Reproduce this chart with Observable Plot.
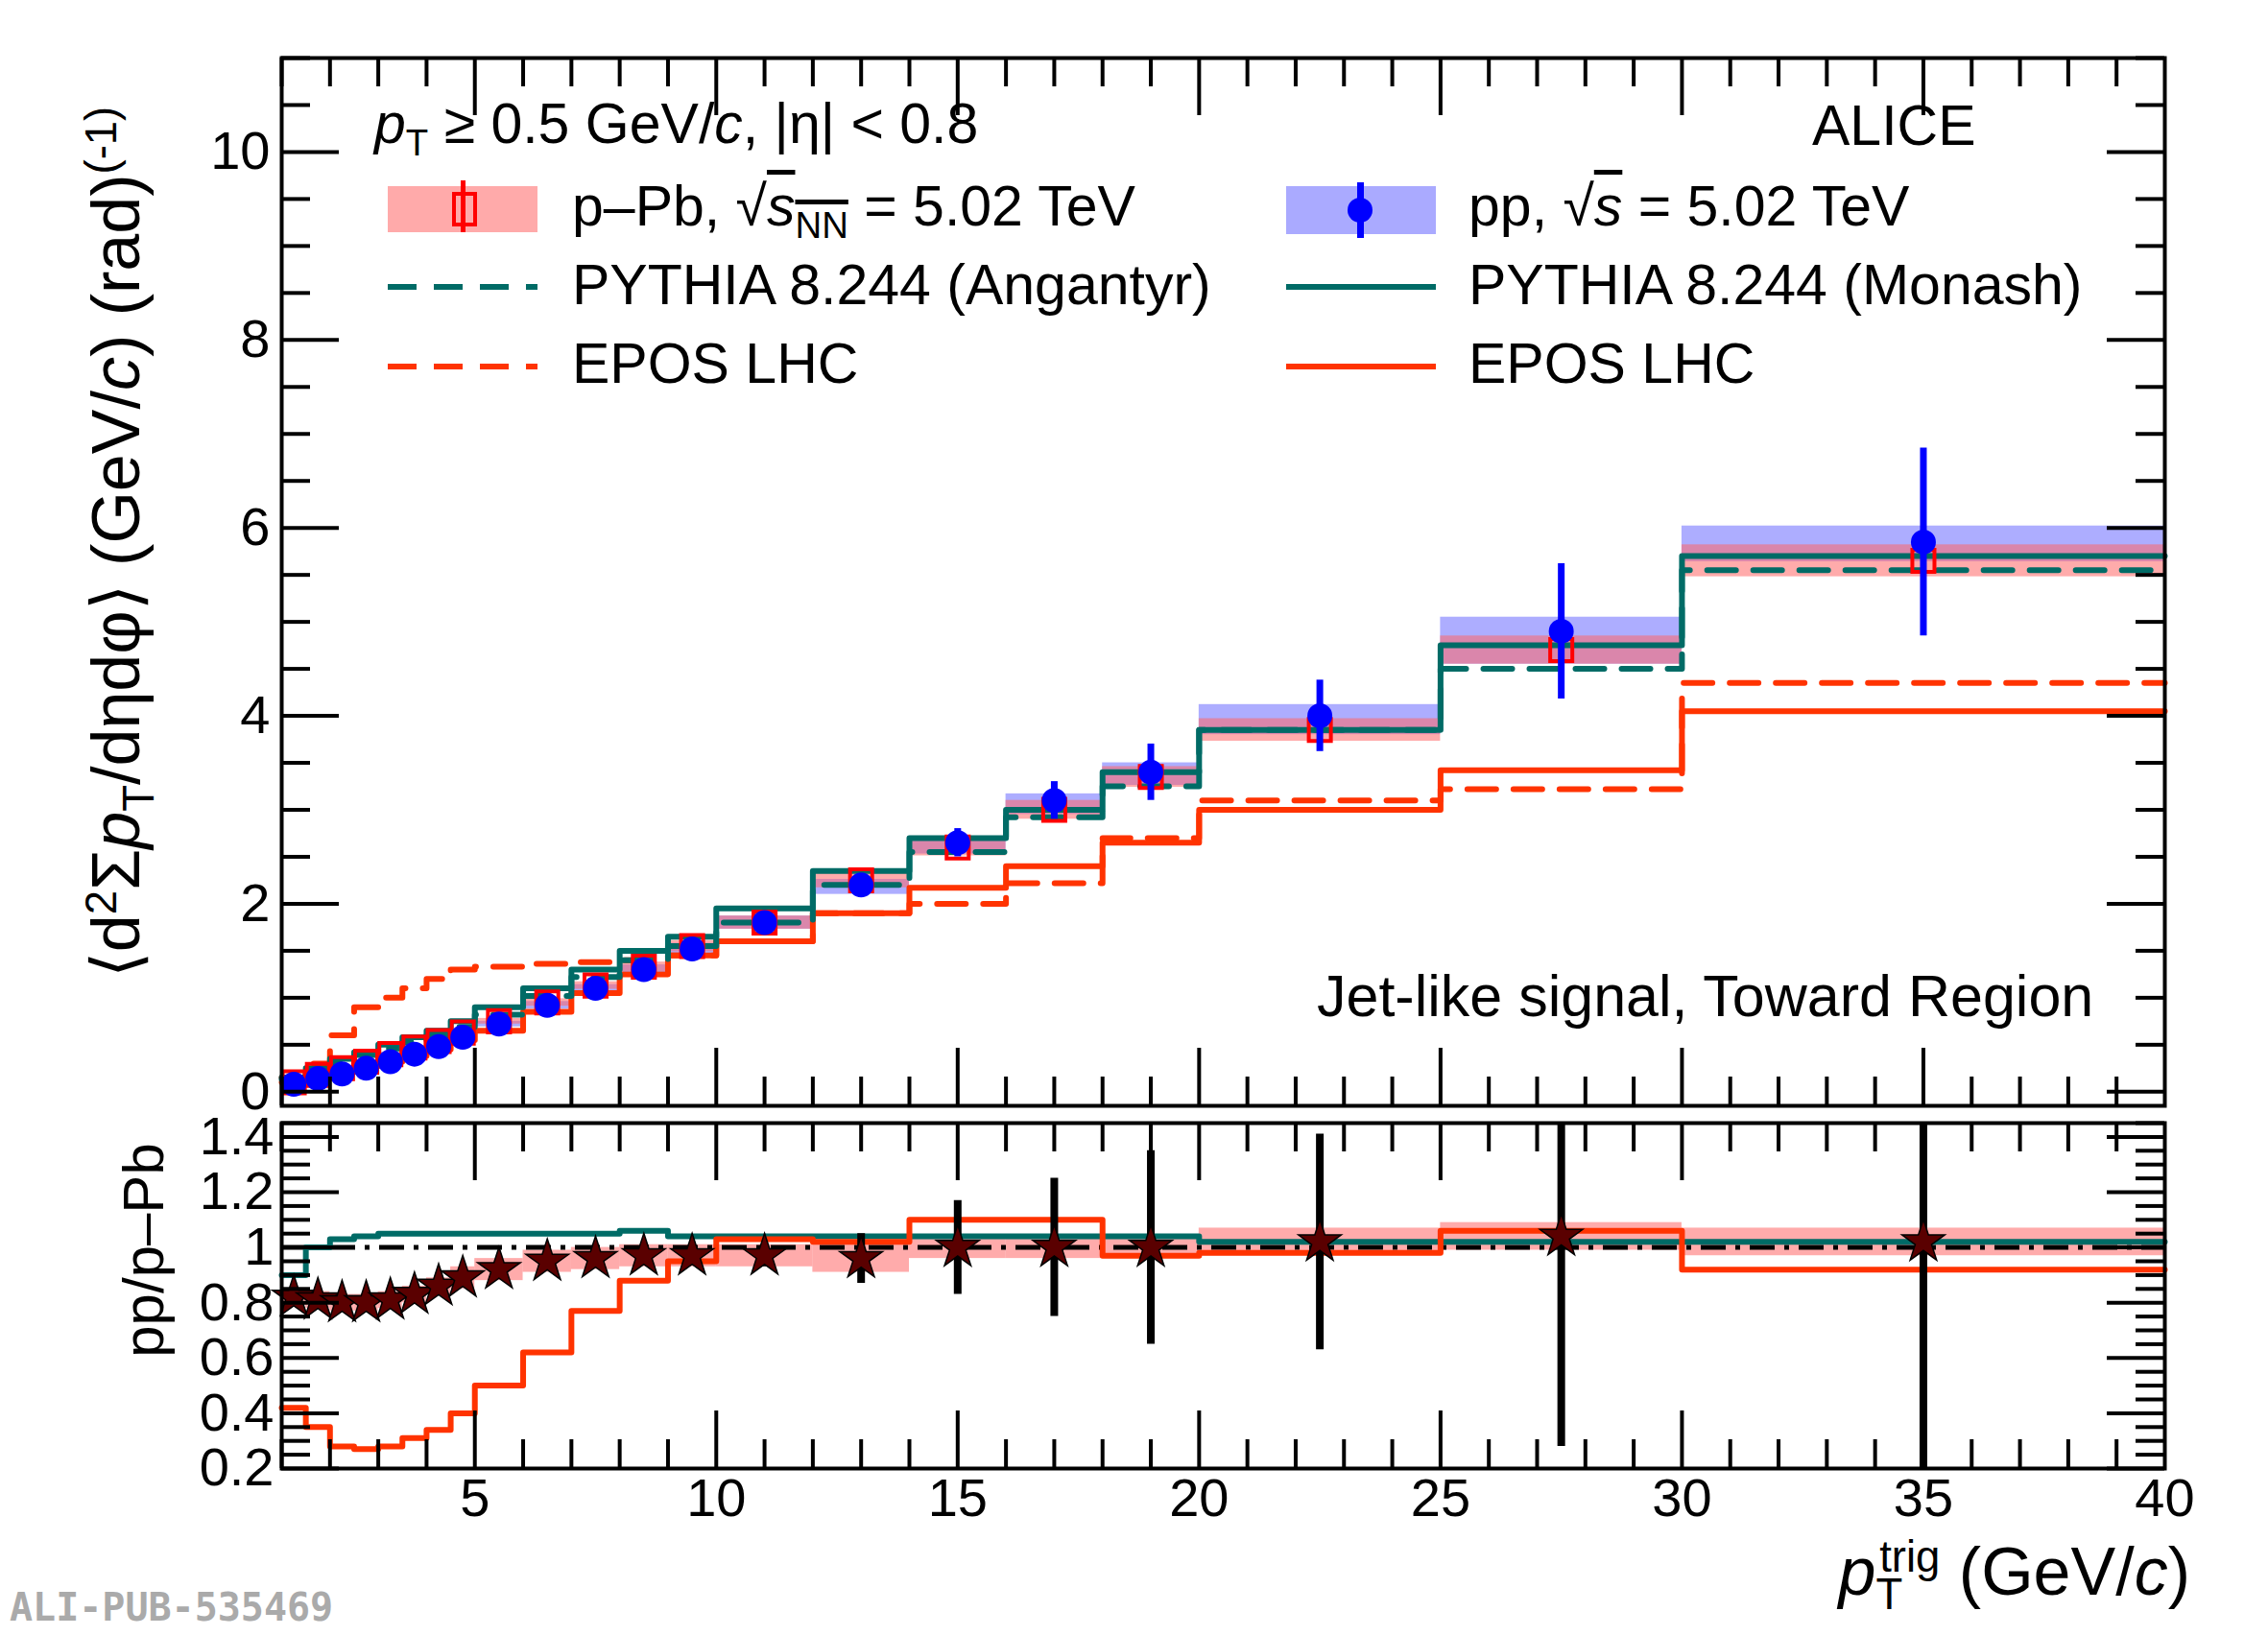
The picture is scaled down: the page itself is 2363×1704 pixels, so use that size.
<!DOCTYPE html>
<html><head><meta charset="utf-8">
<script src="https://cdn.jsdelivr.net/npm/d3@7"></script>
<script src="https://cdn.jsdelivr.net/npm/@observablehq/plot@0.6"></script>
<style>
body{margin:0;background:#fff;font-family:"Liberation Sans",Arial,sans-serif;}
#wrap{position:relative;width:2363px;height:1704px;overflow:hidden;}
.t{position:absolute;white-space:nowrap;font-size:59px;color:#000;line-height:1;}
.sw{position:absolute;}
sub,sup{font-size:0.65em;}
</style></head><body><div id="wrap"></div>
<script>
// bin edges (GeV/c)
const edges = [1,1.5,2,2.5,3,3.5,4,4.5,5,6,7,8,9,10,12,14,16,18,20,25,30,40];
const centers = [1.25,1.75,2.25,2.75,3.25,3.75,4.25,4.75,5.5,6.5,7.5,8.5,9.5,11,13,15,17,19,22.5,27.5,35];
// pp data
const ppVal  = [0.08,0.14,0.19,0.25,0.32,0.40,0.48,0.58,0.72,0.92,1.10,1.30,1.52,1.80,2.20,2.65,3.10,3.40,4.00,4.90,5.85];
const ppStat = [0.02,0.02,0.02,0.02,0.02,0.02,0.02,0.03,0.03,0.03,0.04,0.05,0.06,0.08,0.10,0.15,0.20,0.30,0.38,0.72,1.00];
const ppSys  = [0.01,0.01,0.01,0.02,0.02,0.02,0.02,0.03,0.03,0.04,0.04,0.05,0.06,0.07,0.08,0.09,0.11,0.12,0.16,0.25,0.19];
const ppSysC = [0.08,0.14,0.19,0.25,0.32,0.40,0.48,0.58,0.72,0.92,1.10,1.30,1.52,1.80,2.18,2.62,3.06,3.38,3.96,4.80,5.83];
// p-Pb data
const pPbVal = [0.10,0.18,0.25,0.32,0.40,0.47,0.54,0.63,0.75,0.95,1.13,1.33,1.55,1.80,2.25,2.60,3.00,3.35,3.85,4.70,5.65];
const pPbSys = [0.01,0.01,0.01,0.02,0.02,0.02,0.02,0.03,0.03,0.04,0.04,0.05,0.06,0.07,0.08,0.09,0.10,0.11,0.12,0.15,0.17];
// models
const monash   = [0.15,0.25,0.35,0.42,0.50,0.58,0.65,0.75,0.90,1.10,1.30,1.50,1.65,1.95,2.35,2.70,3.00,3.40,3.85,4.75,5.70];
const angantyr = [0.13,0.22,0.31,0.39,0.46,0.53,0.60,0.69,0.82,1.02,1.22,1.40,1.55,1.80,2.20,2.55,2.92,3.25,3.85,4.50,5.55];
const eposPPb  = [0.15,0.30,0.60,0.90,1.00,1.10,1.20,1.30,1.33,1.36,1.38,1.40,1.45,1.60,1.90,2.00,2.22,2.70,3.10,3.22,4.35];
const eposPP   = [0.10,0.16,0.22,0.27,0.32,0.38,0.45,0.55,0.65,0.85,1.05,1.25,1.45,1.60,1.90,2.17,2.40,2.65,3.00,3.42,4.05];
// ratio pp/p-Pb
const ratio     = [0.82,0.81,0.80,0.80,0.81,0.83,0.86,0.89,0.92,0.95,0.96,0.97,0.97,0.97,0.96,1.00,1.00,1.00,1.02,1.04,1.02];
const ratioStat = [0.02,0.02,0.02,0.02,0.02,0.02,0.02,0.02,0.02,0.02,0.03,0.03,0.03,0.04,0.09,0.17,0.25,0.35,0.39,0.76,0.85];
const ratioSys  = [0.03,0.03,0.03,0.03,0.03,0.03,0.03,0.04,0.04,0.04,0.04,0.04,0.04,0.04,0.05,0.04,0.04,0.04,0.05,0.05,0.05];
const ratioPythia = [0.90,1.00,1.03,1.04,1.05,1.05,1.05,1.05,1.05,1.05,1.05,1.06,1.04,1.04,1.04,1.04,1.04,1.04,1.02,1.02,1.02];
const ratioEpos   = [0.42,0.35,0.28,0.27,0.28,0.31,0.34,0.40,0.50,0.62,0.77,0.88,0.95,1.03,1.02,1.10,1.10,0.97,0.98,1.06,0.92];

const bins = centers.map((c,i)=>({c, lo:edges[i], hi:edges[i+1], pp:ppVal[i], ppStat:ppStat[i], ppSys:ppSys[i], ppSysC:ppSysC[i],
  pPb:pPbVal[i], pPbSys:pPbSys[i], r:ratio[i], rStat:ratioStat[i], rSys:ratioSys[i]}));
const steps = vals => edges.map((e,i)=>({x:e, y:vals[Math.min(i, vals.length-1)]}));

const TEAL="#006b66", EPOS="#ff3300", W=2363, ML=293, MR=108;
const xDom=[1,40];
function ticksMarks(xDomain, yDomain, yMajor, yMinor, xMaj, xMin, pxW, pxH){
  const xu=(xDomain[1]-xDomain[0])/pxW, yu=(yDomain[1]-yDomain[0])/pxH;
  const yt=(arr,len)=>[
    Plot.ruleY(arr,{x1:xDomain[0],x2:xDomain[0]+len*xu,stroke:"#000",strokeWidth:4}),
    Plot.ruleY(arr,{x1:xDomain[1],x2:xDomain[1]-len*xu,stroke:"#000",strokeWidth:4})];
  const xt=(arr,len)=>[
    Plot.ruleX(arr,{y1:yDomain[0],y2:yDomain[0]+len*yu,stroke:"#000",strokeWidth:4}),
    Plot.ruleX(arr,{y1:yDomain[1],y2:yDomain[1]-len*yu,stroke:"#000",strokeWidth:4})];
  return [...yt(yMajor,60),...yt(yMinor,30),...xt(xMaj,60),...xt(xMin,30)];
}
const rng=(a,b,s)=>d3.range(Math.round(a/s),Math.round(b/s)+1).map(k=>+(k*s).toFixed(4));
const xMaj=[5,10,15,20,25,30,35], xMin=rng(1,40,1).filter(v=>v%5);

// main panel
const mainH=1160, mT=60, mB=8;
const yDom=[-0.15,11];
const main = Plot.plot({
  width:W, height:mainH, marginLeft:ML, marginRight:MR, marginTop:mT, marginBottom:mB,
  x:{domain:xDom}, y:{domain:yDom},
  style:{fontFamily:"Liberation Sans, Arial, sans-serif", fontSize:"56px", overflow:"visible"},
  marks:[
    Plot.rect(bins,{x1:"lo",x2:"hi",y1:d=>d.ppSysC-d.ppSys,y2:d=>d.ppSysC+d.ppSys,fill:"#7777ff",fillOpacity:0.6}),
    Plot.rect(bins,{x1:"lo",x2:"hi",y1:d=>d.pPb-d.pPbSys,y2:d=>d.pPb+d.pPbSys,fill:"#ff6666",fillOpacity:0.55}),
    Plot.line(steps(eposPPb),{x:"x",y:"y",curve:"step-after",stroke:EPOS,strokeWidth:6,strokeDasharray:"30,18"}),
    Plot.line(steps(eposPP),{x:"x",y:"y",curve:"step-after",stroke:EPOS,strokeWidth:6}),
    Plot.line(steps(angantyr),{x:"x",y:"y",curve:"step-after",stroke:TEAL,strokeWidth:6,strokeDasharray:"30,18"}),
    Plot.line(steps(monash),{x:"x",y:"y",curve:"step-after",stroke:TEAL,strokeWidth:6}),
    Plot.ruleX(bins,{x:"c",y1:d=>d.pPb-d.pPbSys*0.8,y2:d=>d.pPb+d.pPbSys*0.8,stroke:"red",strokeWidth:5}),
    Plot.dot(bins,{x:"c",y:"pPb",symbol:"square",r:13,stroke:"red",strokeWidth:4,fill:"none"}),
    Plot.ruleX(bins,{x:"c",y1:d=>d.pp-d.ppStat,y2:d=>d.pp+d.ppStat,stroke:"blue",strokeWidth:7}),
    Plot.dot(bins,{x:"c",y:"pp",r:13,fill:"blue"}),
    Plot.axisY({ticks:[0,2,4,6,8,10],tickSize:0,tickPadding:12,label:null,fontSize:56}),
    Plot.axisX({ticks:[],label:null,tickSize:0}),
    ...ticksMarks(xDom,yDom,[0,2,4,6,8,10],rng(0,11,0.5).filter(v=>v%2),xMaj,xMin,W-ML-MR,mainH-mT-mB),
    Plot.frame({stroke:"#000",strokeWidth:4})
  ]
});
// ratio panel
const rH=530, rT=10, rB=160;
const rDom=[0.2,1.45];
const rp = Plot.plot({
  width:W, height:rH, marginLeft:ML, marginRight:MR, marginTop:rT, marginBottom:rB,
  x:{domain:xDom}, y:{domain:rDom},
  style:{fontFamily:"Liberation Sans, Arial, sans-serif", fontSize:"56px", overflow:"visible"},
  marks:[
    Plot.rect(bins,{x1:"lo",x2:"hi",y1:d=>d.r-d.rSys,y2:d=>d.r+d.rSys,fill:"#ff6666",fillOpacity:0.55}),
    Plot.ruleY([1],{stroke:"#000",strokeWidth:5,strokeDasharray:"26,10,5,10"}),
    Plot.line(steps(ratioPythia),{x:"x",y:"y",curve:"step-after",stroke:TEAL,strokeWidth:6}),
    Plot.line(steps(ratioEpos),{x:"x",y:"y",curve:"step-after",stroke:EPOS,strokeWidth:6}),
    Plot.ruleX(bins,{x:"c",y1:d=>Math.max(0.2,d.r-d.rStat),y2:d=>Math.min(1.45,d.r+d.rStat),stroke:"#000",strokeWidth:8}),
    Plot.dot(bins,{x:"c",y:"r",symbol:"star",r:14,fill:"#5a0000",stroke:"#000",strokeWidth:1.5}),
    Plot.axisY({ticks:[0.2,0.4,0.6,0.8,1,1.2,1.4],tickFormat:d=>d===1?"1":d3.format(".1f")(d),tickSize:0,tickPadding:8,label:null,fontSize:56}),
    Plot.axisX({ticks:[5,10,15,20,25,30,35,40],tickSize:0,tickPadding:10,label:null,fontSize:56}),
    ...ticksMarks(xDom,rDom,[0.2,0.4,0.6,0.8,1,1.2,1.4],rng(0.2,1.45,0.05).filter(v=>Math.abs(v*5-Math.round(v*5))>1e-6),xMaj,xMin,W-ML-MR,rH-rT-rB),
    Plot.frame({stroke:"#000",strokeWidth:4})
  ]
});
const wrap=document.getElementById("wrap");
main.style.position="absolute"; main.style.left="0"; main.style.top="0";
rp.style.position="absolute"; rp.style.left="0"; rp.style.top=mainH+"px";
wrap.appendChild(main); wrap.appendChild(rp);

function add(html,css){const d=document.createElement("div");d.className="t";d.innerHTML=html;Object.assign(d.style,css);wrap.appendChild(d);return d;}
function sw(css){const d=document.createElement("div");d.className="sw";Object.assign(d.style,css);wrap.appendChild(d);return d;}
const dash=c=>`repeating-linear-gradient(90deg, ${c} 0 30px, transparent 30px 48px)`;
add("<i>p</i><sub>T</sub> ≥ 0.5 GeV/<i>c</i>, |η| &lt; 0.8",{left:"390px",top:"100px"});
add("ALICE",{left:"1888px",top:"102px"});
add("Jet-like signal, Toward Region",{left:"1372px",top:"1008px",fontSize:"61px"});
// legend col 1
sw({left:"404px",top:"194px",width:"156px",height:"48px",background:"#ffaaaa"});
sw({left:"471px",top:"200px",width:"18px",height:"28px",border:"4px solid red"});
sw({left:"480px",top:"188px",width:"5px",height:"54px",background:"red"});
add("p–Pb, √<span style='text-decoration:overline'><i>s</i><sub>NN</sub></span> = 5.02 TeV",{left:"596px",top:"186px"});
sw({left:"404px",top:"296px",width:"156px",height:"6px",background:dash(TEAL)});
add("PYTHIA 8.244 (Angantyr)",{left:"596px",top:"268px"});
sw({left:"404px",top:"379px",width:"156px",height:"6px",background:dash(EPOS)});
add("EPOS LHC",{left:"596px",top:"350px"});
// legend col 2
sw({left:"1340px",top:"194px",width:"156px",height:"50px",background:"#aaaaff"});
sw({left:"1404px",top:"206px",width:"26px",height:"26px",borderRadius:"50%",background:"blue"});
sw({left:"1414px",top:"190px",width:"7px",height:"58px",background:"blue"});
add("pp, √<span style='text-decoration:overline'><i>s</i></span> = 5.02 TeV",{left:"1530px",top:"186px"});
sw({left:"1340px",top:"296px",width:"156px",height:"6px",background:TEAL});
add("PYTHIA 8.244 (Monash)",{left:"1530px",top:"268px"});
sw({left:"1340px",top:"379px",width:"156px",height:"6px",background:EPOS});
add("EPOS LHC",{left:"1530px",top:"350px"});
// axis titles
add("⟨d<sup>2</sup>Σ<i>p</i><sub>T</sub>/dηdφ⟩ (GeV/<i>c</i>) (rad)<sup>(-1)</sup>",{left:"125px",top:"565px",fontSize:"70px",transform:"translate(-50%,-50%) rotate(-90deg)"});
add("pp/p–Pb",{left:"150px",top:"1303px",fontSize:"60px",transform:"translate(-50%,-50%) rotate(-90deg)"});
add("<i>p</i><sub>T</sub><sup style='margin-left:-24px'>trig</sup> (GeV/<i>c</i>)",{right:"81px",top:"1600px",fontSize:"70px"});
add("ALI-PUB-535469",{left:"10px",top:"1655px",fontSize:"40px",fontFamily:"DejaVu Sans Mono, monospace",fontWeight:"bold",color:"#aaaaaa"});
</script></body></html>
